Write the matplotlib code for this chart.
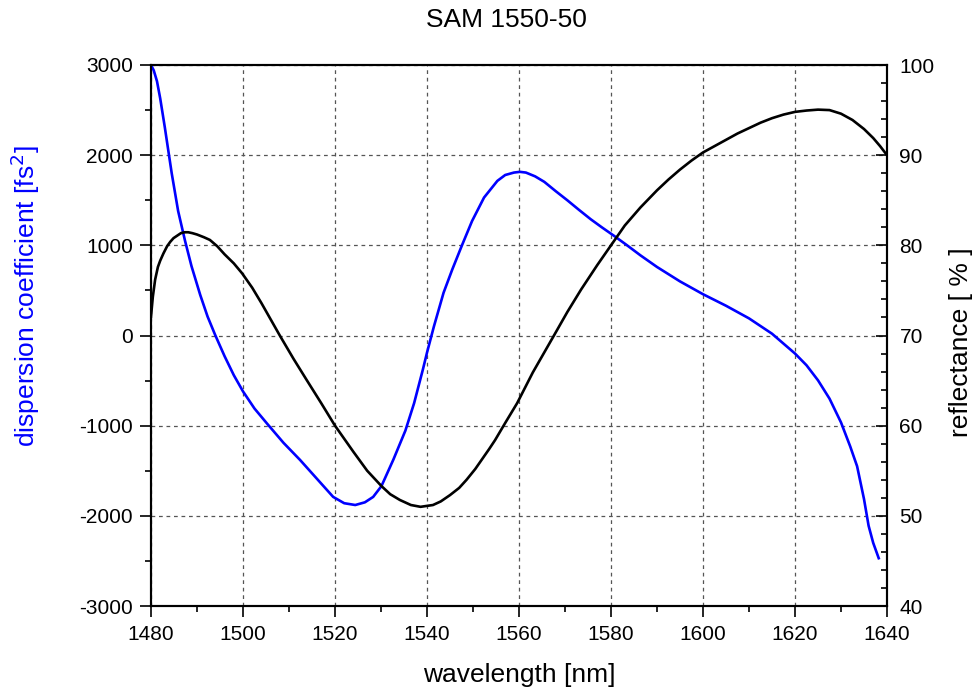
import matplotlib.pyplot as plt
from matplotlib.ticker import MultipleLocator

plt.rcParams['font.family'] = ['Liberation Sans', 'DejaVu Sans']
plt.rcParams['axes.unicode_minus'] = False

# dispersion curve (blue, left axis)
wl_disp = [1480, 1480.6, 1481.3, 1482, 1483, 1484, 1484.5, 1485.9, 1487.4, 1488.8, 1490.7,
           1492.3, 1494, 1496, 1498, 1500, 1502.5, 1505.2, 1508.8, 1512.4, 1516,
           1519.6, 1522, 1524.4, 1526.5, 1528.3, 1530.1, 1532.7, 1535.3, 1537.2, 1539.1,
           1540, 1541.5, 1543.6, 1545.5, 1547.6, 1549.8, 1552.4, 1555.3, 1557, 1558.9,
           1560.2, 1561.5, 1563.5, 1565.5, 1568, 1570.5, 1573, 1575.6, 1578, 1580.7,
           1583.5, 1586.4, 1590, 1595, 1600, 1605, 1610, 1615, 1617.5, 1620,
           1622.5, 1625, 1627.5, 1630, 1632, 1633.5, 1635, 1636, 1637, 1638.2]
disp = [3000, 2940, 2820, 2630, 2310, 1970, 1800, 1380, 1050, 770, 450,
        210, 0, -230, -440, -620, -810, -975, -1190, -1380, -1585,
        -1790, -1860, -1880, -1850, -1790, -1670, -1375, -1055, -750, -378,
        -190, 100, 474, 733, 1000, 1270, 1530, 1715, 1780, 1807,
        1815, 1807, 1765, 1704, 1600, 1500, 1395, 1289, 1200, 1104,
        1000, 889, 760, 600, 458, 330, 190, 20, -90, -200,
        -330, -497, -700, -964, -1230, -1450, -1814, -2110, -2300, -2470]

# reflectance curve (black, right axis)
wl_refl = [1480, 1480.4, 1480.9, 1481.5, 1482, 1482.7, 1483.5, 1484.2, 1484.9, 1486.5,
           1487.3, 1488.1, 1489, 1490, 1491.5, 1492.8, 1494.4, 1496, 1498, 1499.8,
           1502, 1504, 1506, 1508, 1511, 1513.8, 1517, 1520, 1524, 1527,
           1530.1, 1532, 1534.1, 1536.5, 1538.6, 1541.3, 1543, 1545, 1547, 1548.6,
           1550.5, 1552, 1553.5, 1554.8, 1557, 1559.6, 1563, 1567.6, 1570.5, 1573.5,
           1577, 1580, 1583, 1586.4, 1590, 1592.5, 1595, 1597.5, 1600, 1602.5,
           1605, 1607.5, 1610, 1612.5, 1615, 1617.5, 1620, 1622.5, 1625, 1627.5,
           1630, 1632.5, 1635, 1637, 1638.5, 1640]
refl = [72.1, 74.3, 76.2, 77.6, 78.3, 79.1, 79.9, 80.4, 80.8, 81.35,
        81.45, 81.45, 81.35, 81.2, 80.9, 80.6, 79.9, 79.0, 78.0, 76.9,
        75.3, 73.6, 71.8, 70.0, 67.4, 65.1, 62.5, 60.0, 57.1, 55.0,
        53.3, 52.4, 51.76, 51.2, 51.0, 51.2, 51.6, 52.3, 53.1, 54.0,
        55.2, 56.3, 57.4, 58.4, 60.3, 62.5, 65.9, 70.0, 72.6, 75.1,
        77.8, 80.0, 82.2, 84.2, 86.1, 87.3, 88.4, 89.4, 90.3, 91.0,
        91.7, 92.4, 93.0, 93.6, 94.1, 94.5, 94.8, 94.95, 95.05, 95.0,
        94.6, 93.9, 92.9, 91.9, 91.0, 90.0]

fig = plt.figure(figsize=(9.75, 6.88), dpi=100)
ax = fig.add_axes([151/975, 1-606/688, 736/975, 541/688])
ax2 = ax.twinx()

ax.plot(wl_disp, disp, color='#0000ff', lw=1.9, zorder=3)
ax2.plot(wl_refl, refl, color='black', lw=1.9, zorder=3)

ax.set_xlim(1480, 1640)
ax.set_ylim(-3000, 3000)
ax2.set_ylim(40, 100)

ax.xaxis.set_major_locator(MultipleLocator(20))
ax.xaxis.set_minor_locator(MultipleLocator(10))
ax.yaxis.set_major_locator(MultipleLocator(1000))
ax.yaxis.set_minor_locator(MultipleLocator(500))
ax2.yaxis.set_major_locator(MultipleLocator(10))
ax2.yaxis.set_minor_locator(MultipleLocator(2))

ax.grid(True, which='major', color='#555555', ls=(0, (3, 3)), lw=0.9)

for a in (ax, ax2):
    for s in a.spines.values():
        s.set_linewidth(1.5)
    a.tick_params(which='major', length=8, width=1.2, labelsize=15)
    a.tick_params(which='minor', length=4.5, width=1.2)

ax.tick_params(axis='both', which='both', direction='out')
ax.tick_params(axis='x', pad=6)
ax.tick_params(axis='y', pad=5)
ax2.tick_params(axis='y', which='both', direction='in', pad=9)

ax.set_xlabel('wavelength [nm]', fontsize=19, va='center')
ax.xaxis.set_label_coords(0.5, (606-675)/541)
ax.set_ylabel('dispersion coefficient [fs$^2$]', fontsize=19, color='#0000ff', va='center')
ax.yaxis.set_label_coords((25-151)/736, (606-296)/541)
ax2.set_ylabel('reflectance [ % ]', fontsize=19, va='center')
ax2.yaxis.set_label_coords((961-151)/736, (606-342)/541)

fig.text(506/975, 1-20/688, 'SAM 1550-50', fontsize=19, ha='center', va='center')

fig.savefig('out.png', dpi=100)
